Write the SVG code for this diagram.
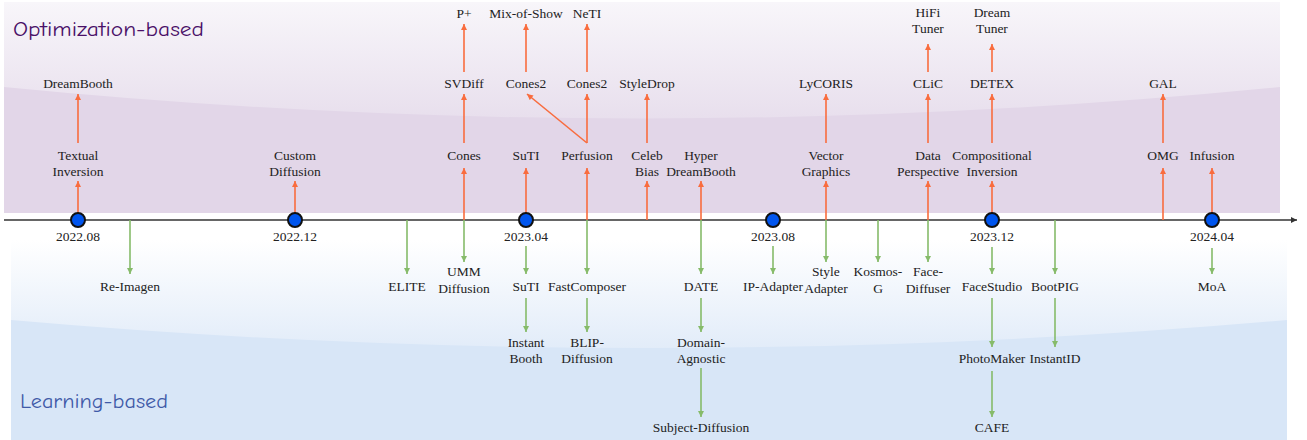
<svg xmlns="http://www.w3.org/2000/svg" width="1307" height="440" viewBox="0 0 1307 440">
<style>
.t{font-family:"Liberation Serif","Times New Roman",serif;font-size:13.5px;fill:#222;text-anchor:middle}
.o{stroke:#f96c3e;stroke-width:1.6;fill:none;marker-end:url(#ao)}
.ol{stroke:#f96c3e;stroke-width:1.6;fill:none}
.g{stroke:#86bb6a;stroke-width:1.6;fill:none;marker-end:url(#ag)}
.dot{fill:#0055ee;stroke:#111;stroke-width:2}
.title{font-family:"Comic Sans MS","Comic Neue","DejaVu Sans",sans-serif;font-size:21px}
</style>
<defs>
<linearGradient id="topg" x1="0" y1="0" x2="0" y2="1">
<stop offset="0" stop-color="#f8f6fa"/>
<stop offset="1" stop-color="#e8dfed"/>
</linearGradient>
<linearGradient id="botg" x1="0" y1="0" x2="0" y2="1">
<stop offset="0" stop-color="#ffffff"/>
<stop offset="1" stop-color="#e2ecf9"/>
</linearGradient>
<marker id="ao" viewBox="0 0 10 10" refX="10" refY="5" markerWidth="7" markerHeight="6" orient="auto" markerUnits="userSpaceOnUse"><path d="M0,0 L10,5 L0,10 z" fill="#f96c3e"/></marker>
<marker id="ag" viewBox="0 0 10 10" refX="10" refY="5" markerWidth="7" markerHeight="6" orient="auto" markerUnits="userSpaceOnUse"><path d="M0,0 L10,5 L0,10 z" fill="#86bb6a"/></marker>
<marker id="ak" viewBox="0 0 10 10" refX="10" refY="5" markerWidth="8" markerHeight="6" orient="auto" markerUnits="userSpaceOnUse"><path d="M0,0 L10,5 L0,10 z" fill="#333"/></marker>
</defs>
<g id="background">
<rect x="4" y="2" width="1276" height="211" fill="#e2d6e8"/>
<path d="M4,2 H1280 V87 Q642,150 4,87 Z" fill="url(#topg)"/>
<rect x="11" y="240" width="1276" height="200" fill="#d8e6f7"/>
<path d="M11,240 H1287 V320 Q649,376 11,320 Z" fill="url(#botg)"/>
<text x="13" y="36" class="title" fill="#4a1068" textLength="191" lengthAdjust="spacingAndGlyphs">Optimization-based</text>
<text x="20" y="408" class="title" fill="#3f5aa8" textLength="148" lengthAdjust="spacingAndGlyphs">Learning-based</text>
</g>
<g id="connectors">
<line x1="4" y1="220" x2="1297" y2="220" stroke="#333" stroke-width="1.3" marker-end="url(#ak)"/>
<line class="o" x1="78" y1="220" x2="78" y2="181"/>
<line class="o" x1="78" y1="143" x2="78" y2="94"/>
<line class="o" x1="295" y1="220" x2="295" y2="181"/>
<line class="o" x1="464" y1="220" x2="464" y2="168"/>
<line class="o" x1="464" y1="143" x2="464" y2="94"/>
<line class="o" x1="464" y1="72" x2="464" y2="24"/>
<line class="o" x1="526" y1="220" x2="526" y2="168"/>
<line class="o" x1="526" y1="72" x2="526" y2="24"/>
<line class="o" x1="587" y1="220" x2="587" y2="168"/>
<line class="o" x1="587" y1="143" x2="587" y2="94"/>
<line class="o" x1="587" y1="143" x2="527" y2="94"/>
<line class="o" x1="587" y1="72" x2="587" y2="24"/>
<line class="o" x1="647" y1="220" x2="647" y2="181"/>
<line class="o" x1="647" y1="143" x2="647" y2="94"/>
<line class="o" x1="701" y1="220" x2="701" y2="181"/>
<line class="o" x1="826" y1="220" x2="826" y2="181"/>
<line class="o" x1="826" y1="143" x2="826" y2="94"/>
<line class="o" x1="928" y1="220" x2="928" y2="181"/>
<line class="o" x1="928" y1="143" x2="928" y2="94"/>
<line class="o" x1="928" y1="72" x2="928" y2="44"/>
<line class="o" x1="992" y1="220" x2="992" y2="181"/>
<line class="o" x1="992" y1="143" x2="992" y2="94"/>
<line class="o" x1="992" y1="72" x2="992" y2="44"/>
<line class="o" x1="1163" y1="220" x2="1163" y2="168"/>
<line class="o" x1="1163" y1="143" x2="1163" y2="94"/>
<line class="o" x1="1212" y1="220" x2="1212" y2="168"/>
<line class="g" x1="130" y1="220" x2="130" y2="274"/>
<line class="g" x1="407" y1="220" x2="407" y2="274"/>
<line class="g" x1="464" y1="220" x2="464" y2="262"/>
<line class="g" x1="526" y1="246" x2="526" y2="274"/>
<line class="g" x1="526" y1="298" x2="526" y2="332"/>
<line class="g" x1="587" y1="220" x2="587" y2="274"/>
<line class="g" x1="587" y1="298" x2="587" y2="332"/>
<line class="g" x1="701" y1="220" x2="701" y2="274"/>
<line class="g" x1="701" y1="298" x2="701" y2="332"/>
<line class="g" x1="701" y1="368" x2="701" y2="417"/>
<line class="g" x1="773" y1="246" x2="773" y2="274"/>
<line class="g" x1="826" y1="220" x2="826" y2="262"/>
<line class="g" x1="878" y1="220" x2="878" y2="262"/>
<line class="g" x1="928" y1="220" x2="928" y2="262"/>
<line class="g" x1="992" y1="247" x2="992" y2="274"/>
<line class="g" x1="992" y1="298" x2="992" y2="347"/>
<line class="g" x1="992" y1="371" x2="992" y2="417"/>
<line class="g" x1="1055" y1="220" x2="1055" y2="274"/>
<line class="g" x1="1055" y1="298" x2="1055" y2="347"/>
<line class="g" x1="1212" y1="248" x2="1212" y2="274"/>
</g>
<g id="m2022-08"><circle class="dot" cx="78" cy="220" r="7"/><text class="t" x="78" y="241">2022.08</text></g>
<g id="m2022-12"><circle class="dot" cx="295" cy="220" r="7"/><text class="t" x="295" y="241">2022.12</text></g>
<g id="m2023-04"><circle class="dot" cx="526" cy="220" r="7"/><text class="t" x="526" y="241">2023.04</text></g>
<g id="m2023-08"><circle class="dot" cx="773" cy="220" r="7"/><text class="t" x="773" y="241">2023.08</text></g>
<g id="m2023-12"><circle class="dot" cx="992" cy="220" r="7"/><text class="t" x="992" y="241">2023.12</text></g>
<g id="m2024-04"><circle class="dot" cx="1212" cy="220" r="7"/><text class="t" x="1212" y="241">2024.04</text></g>
<g id="textual-inversion"><text class="t" x="78" y="159.5">Textual</text><text class="t" x="78" y="176">Inversion</text></g>
<g id="dreambooth"><text class="t" x="78" y="87.5">DreamBooth</text></g>
<g id="custom-diffusion"><text class="t" x="295" y="159.5">Custom</text><text class="t" x="295" y="176">Diffusion</text></g>
<g id="cones"><text class="t" x="464" y="159.5">Cones</text></g>
<g id="svdiff"><text class="t" x="464" y="87.5">SVDiff</text></g>
<g id="pplus"><text class="t" x="464" y="17.5">P+</text></g>
<g id="suti-top"><text class="t" x="526" y="159.5">SuTI</text></g>
<g id="cones2-a"><text class="t" x="526" y="87.5">Cones2</text></g>
<g id="mix-of-show"><text class="t" x="526" y="17.5">Mix-of-Show</text></g>
<g id="perfusion"><text class="t" x="587" y="159.5">Perfusion</text></g>
<g id="cones2-b"><text class="t" x="587" y="87.5">Cones2</text></g>
<g id="neti"><text class="t" x="587" y="17.5">NeTI</text></g>
<g id="celeb-bias"><text class="t" x="647" y="159.5">Celeb</text><text class="t" x="647" y="176">Bias</text></g>
<g id="styledrop"><text class="t" x="647" y="87.5">StyleDrop</text></g>
<g id="hyper-dreambooth"><text class="t" x="701" y="159.5">Hyper</text><text class="t" x="701" y="176">DreamBooth</text></g>
<g id="vector-graphics"><text class="t" x="826" y="159.5">Vector</text><text class="t" x="826" y="176">Graphics</text></g>
<g id="lycoris"><text class="t" x="826" y="87.5">LyCORIS</text></g>
<g id="data-perspective"><text class="t" x="928" y="159.5">Data</text><text class="t" x="928" y="176">Perspective</text></g>
<g id="clic"><text class="t" x="928" y="87.5">CLiC</text></g>
<g id="hifi-tuner"><text class="t" x="928" y="16.5">HiFi</text><text class="t" x="928" y="32.5">Tuner</text></g>
<g id="compositional-inversion"><text class="t" x="992" y="159.5">Compositional</text><text class="t" x="992" y="176">Inversion</text></g>
<g id="detex"><text class="t" x="992" y="87.5">DETEX</text></g>
<g id="dream-tuner"><text class="t" x="992" y="16.5">Dream</text><text class="t" x="992" y="32.5">Tuner</text></g>
<g id="omg"><text class="t" x="1163" y="159.5">OMG</text></g>
<g id="gal"><text class="t" x="1163" y="87.5">GAL</text></g>
<g id="infusion"><text class="t" x="1212" y="159.5">Infusion</text></g>
<g id="re-imagen"><text class="t" x="130" y="291">Re-Imagen</text></g>
<g id="elite"><text class="t" x="407" y="291">ELITE</text></g>
<g id="umm-diffusion"><text class="t" x="464" y="276">UMM</text><text class="t" x="464" y="292.5">Diffusion</text></g>
<g id="suti-bottom"><text class="t" x="526" y="291">SuTI</text></g>
<g id="instant-booth"><text class="t" x="526" y="347">Instant</text><text class="t" x="526" y="363">Booth</text></g>
<g id="fastcomposer"><text class="t" x="587" y="291">FastComposer</text></g>
<g id="blip-diffusion"><text class="t" x="587" y="347">BLIP-</text><text class="t" x="587" y="363">Diffusion</text></g>
<g id="date"><text class="t" x="701" y="291">DATE</text></g>
<g id="domain-agnostic"><text class="t" x="701" y="347">Domain-</text><text class="t" x="701" y="363">Agnostic</text></g>
<g id="subject-diffusion"><text class="t" x="701" y="432">Subject-Diffusion</text></g>
<g id="ip-adapter"><text class="t" x="773" y="291">IP-Adapter</text></g>
<g id="style-adapter"><text class="t" x="826" y="276">Style</text><text class="t" x="826" y="292.5">Adapter</text></g>
<g id="kosmos-g"><text class="t" x="878" y="276">Kosmos-</text><text class="t" x="878" y="292.5">G</text></g>
<g id="face-diffuser"><text class="t" x="928" y="276">Face-</text><text class="t" x="928" y="292.5">Diffuser</text></g>
<g id="facestudio"><text class="t" x="992" y="291">FaceStudio</text></g>
<g id="photomaker"><text class="t" x="992" y="363">PhotoMaker</text></g>
<g id="cafe"><text class="t" x="992" y="432">CAFE</text></g>
<g id="bootpig"><text class="t" x="1055" y="291">BootPIG</text></g>
<g id="instantid"><text class="t" x="1055" y="363">InstantID</text></g>
<g id="moa"><text class="t" x="1212" y="291">MoA</text></g>
</svg>
